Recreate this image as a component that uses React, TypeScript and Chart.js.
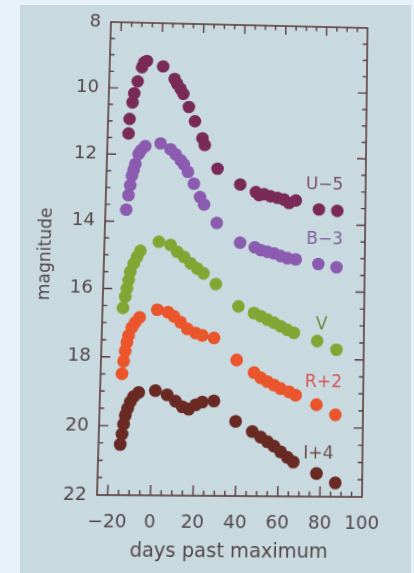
import React, { useEffect, useRef } from "react";
import { Chart, registerables } from "chart.js";

Chart.register(...registerables);

// ---- data (plotted magnitudes, offsets already applied as in the legend labels) ----
const uDays = [-15.0, -14.7, -13.5, -12.8, -11.3, -9.4, -8.4, -7.1, 0.8, 6.5, 7.8, 9.5, 10.9, 13.7, 16.8, 20.6, 21.8, 28.2, 39.3, 46.9, 48.5, 50.9, 54.1, 57.4, 60.6, 63.0, 66.3, 77.5, 86.4];
const uMag = [11.37, 10.93, 10.43, 10.15, 9.79, 9.36, 9.21, 9.16, 9.32, 9.69, 9.84, 9.99, 10.14, 10.53, 10.96, 11.47, 11.67, 12.38, 12.84, 13.06, 13.15, 13.12, 13.18, 13.22, 13.27, 13.37, 13.29, 13.55, 13.58];

const bDays = [-15.1, -14.2, -13.5, -12.8, -12.1, -11.3, -9.9, -8.8, -6.8, 0.5, 5.4, 7.9, 10.4, 12.0, 14.0, 17.0, 20.1, 22.1, 28.4, 39.8, 46.9, 49.8, 53.0, 56.2, 59.4, 62.7, 66.7, 77.6, 86.4];
const bMag = [13.65, 13.22, 12.92, 12.63, 12.46, 12.28, 11.98, 11.87, 11.74, 11.65, 11.82, 11.97, 12.15, 12.27, 12.49, 12.84, 13.24, 13.46, 14.0, 14.58, 14.71, 14.79, 14.84, 14.88, 14.96, 15.02, 15.05, 15.18, 15.27];

const vDays = [-15.3, -14.4, -13.7, -13.0, -12.3, -10.8, -9.3, -7.8, 0.9, 6.5, 9.8, 13.1, 16.4, 19.6, 22.6, 28.6, 39.6, 47.1, 50.4, 53.6, 56.8, 60.0, 63.2, 66.4, 77.6, 86.9];
const vMag = [16.56, 16.23, 15.99, 15.74, 15.49, 15.25, 15.05, 14.87, 14.59, 14.68, 14.88, 15.03, 15.22, 15.37, 15.51, 15.82, 16.47, 16.66, 16.75, 16.85, 16.94, 17.04, 17.14, 17.23, 17.46, 17.71];

const rDays = [-14.9, -14.3, -13.7, -13.0, -12.3, -10.8, -9.3, -7.3, 1.0, 6.1, 9.0, 12.2, 15.5, 19.5, 22.7, 28.3, 39.3, 47.7, 50.9, 54.1, 57.3, 60.5, 64.5, 67.7, 77.7, 86.8];
const rMag = [18.49, 18.12, 17.82, 17.57, 17.37, 17.13, 16.98, 16.83, 16.6, 16.67, 16.79, 16.96, 17.15, 17.27, 17.34, 17.41, 18.05, 18.41, 18.56, 18.67, 18.77, 18.87, 18.96, 19.06, 19.33, 19.62];

const iDays = [-14.8, -14.1, -13.5, -12.8, -11.8, -10.6, -9.1, -6.8, 1.1, 6.7, 10.7, 14.0, 17.1, 20.3, 23.4, 28.9, 39.4, 47.4, 51.4, 54.6, 57.8, 61.0, 64.2, 67.1, 78.2, 87.2];
const iMag = [20.54, 20.24, 19.95, 19.7, 19.5, 19.3, 19.15, 19.03, 18.97, 19.09, 19.27, 19.43, 19.5, 19.37, 19.29, 19.25, 19.84, 20.13, 20.29, 20.42, 20.55, 20.71, 20.87, 21.0, 21.33, 21.6];

const seriesNames = ["U\u22125", "B\u22123", "V", "R+2", "I+4"];
const labelDays = [80.1, 80.5, 79.6, 80.9, 79.0];
const labelMags = [12.8, 14.46, 16.99, 18.69, 20.77];

const xTicks = [-20, 0, 20, 40, 60, 80, 100];
const xTickLabels = ["\u221220", "0", "20", "40", "60", "80", "100"];
const yTicks = [8, 10, 12, 14, 16, 18, 20, 22];
const yTickLabels = ["8", "10", "12", "14", "16", "18", "20", "22"];

// ---- styles ----
const dotColors = ["#792a57", "#8a5bae", "#82a634", "#ea552c", "#692a24"];
const labelColors = ["#7a4f6e", "#7e5f9e", "#6e8a44", "#d2585a", "#6e4a4a"];
const AXIS = "#5b3c3e";
const TEXT = "#52474b";
const FONT = "'DejaVu Sans', sans-serif";
const OUTER = "#e7f1f9";
const SLIDE = "#c8d9e0";

// chart area in the unwarped canvas, and where its corners appear in the photo
const SRC = { x: 104, y: 25, w: 260, h: 470 };
const DST = [
  [111, 22],
  [367.5, 28],
  [362, 497],
  [97, 495],
];

function warpMatrix(): string {
  const [[x0, y0], [x1, y1], [x2, y2], [x3, y3]] = DST;
  const dx1 = x1 - x2, dx2 = x3 - x2, dx3 = x0 - x1 + x2 - x3;
  const dy1 = y1 - y2, dy2 = y3 - y2, dy3 = y0 - y1 + y2 - y3;
  const det = dx1 * dy2 - dx2 * dy1;
  const g = (dx3 * dy2 - dx2 * dy3) / det;
  const h = (dx1 * dy3 - dx3 * dy1) / det;
  const a = x1 - x0 + g * x1, b = x3 - x0 + h * x3, c = x0;
  const d = y1 - y0 + g * y1, e = y3 - y0 + h * y3, f = y0;
  const { x: sx, y: sy, w: sw, h: sh } = SRC;
  const H11 = a / sw, H12 = b / sh, H13 = c - (a * sx) / sw - (b * sy) / sh;
  const H21 = d / sw, H22 = e / sh, H23 = f - (d * sx) / sw - (e * sy) / sh;
  const H31 = g / sw, H32 = h / sh, H33 = 1 - (g * sx) / sw - (h * sy) / sh;
  return `matrix3d(${H11},${H21},0,${H31},${H12},${H22},0,${H32},0,0,1,0,${H13},${H23},0,${H33})`;
}

const framePlugin = {
  id: "frame",
  afterDraw(chart: any) {
    const { ctx, chartArea, scales } = chart;
    const { left, right, top, bottom } = chartArea;
    const xs = scales.x, ys = scales.y;
    ctx.save();
    ctx.strokeStyle = AXIS;
    ctx.lineWidth = 1.6;
    ctx.strokeRect(left, top, right - left, bottom - top);
    ctx.lineWidth = 1.4;
    ctx.beginPath();
    for (let dd = -20; dd < 100; dd += 5) {
      const px = xs.getPixelForValue(dd);
      const major = dd % 20 === 0;
      ctx.moveTo(px, bottom);
      ctx.lineTo(px, bottom - (major ? 10 : 5));
      ctx.moveTo(px, top);
      ctx.lineTo(px, top + (major ? 9 : 4.5));
    }
    for (let m = 8.5; m < 22; m += 0.5) {
      const py = ys.getPixelForValue(m);
      const major = Math.abs(m % 2) < 1e-6;
      ctx.moveTo(left, py);
      ctx.lineTo(left + (major ? 9 : 4.5), py);
      ctx.moveTo(right, py);
      ctx.lineTo(right - (major ? 9 : 4.5), py);
    }
    ctx.stroke();
    ctx.restore();
  },
};

const labelPlugin = {
  id: "seriesLabels",
  afterDatasetsDraw(chart: any) {
    const { ctx, scales } = chart;
    ctx.save();
    ctx.font = `17px ${FONT}`;
    ctx.textAlign = "center";
    ctx.textBaseline = "middle";
    seriesNames.forEach((name, i) => {
      ctx.fillStyle = labelColors[i];
      ctx.fillText(name, scales.x.getPixelForValue(labelDays[i]), scales.y.getPixelForValue(labelMags[i]));
    });
    ctx.restore();
  },
};

export default function App() {
  const ref = useRef<HTMLCanvasElement>(null);

  useEffect(() => {
    const allDays = [uDays, bDays, vDays, rDays, iDays];
    const allMags = [uMag, bMag, vMag, rMag, iMag];
    const chart = new Chart(ref.current as HTMLCanvasElement, {
      type: "scatter",
      data: {
        datasets: allDays.map((days, k) => ({
          label: seriesNames[k],
          data: days.map((dv, j) => ({ x: dv, y: allMags[k][j] })),
          backgroundColor: dotColors[k],
          borderColor: dotColors[k],
          borderWidth: 0,
          pointRadius: 6.3,
          pointHoverRadius: 6.3,
          showLine: false,
        })),
      },
      options: {
        animation: false,
        responsive: false,
        events: [],
        layout: { padding: { top: 25, right: 50, left: 0, bottom: 0 } },
        plugins: { legend: { display: false }, tooltip: { enabled: false } },
        scales: {
          x: {
            type: "linear",
            min: -25,
            max: 100,
            afterBuildTicks: (s: any) => {
              s.ticks = xTicks.map((v) => ({ value: v }));
            },
            afterFit: (s: any) => {
              s.height = 78;
            },
            grid: { display: false, drawTicks: false },
            border: { display: false },
            ticks: {
              autoSkip: false,
              maxRotation: 0,
              padding: 16,
              color: TEXT,
              font: { family: FONT, size: 18 },
              callback: (_v: any, idx: number) => xTickLabels[idx],
            },
            title: {
              display: true,
              text: "days past maximum",
              color: TEXT,
              font: { family: FONT, size: 19 },
              padding: { top: 0, bottom: 13 },
            },
          },
          y: {
            type: "linear",
            reverse: true,
            min: 8,
            max: 22,
            afterBuildTicks: (s: any) => {
              s.ticks = yTicks.map((v) => ({ value: v }));
            },
            afterFit: (s: any) => {
              s.width = 104;
            },
            grid: { display: false, drawTicks: false },
            border: { display: false },
            ticks: {
              autoSkip: false,
              padding: 10,
              color: TEXT,
              font: { family: FONT, size: 18 },
              callback: (_v: any, idx: number) => yTickLabels[idx],
            },
            title: {
              display: true,
              text: "magnitude",
              color: TEXT,
              font: { family: FONT, size: 17 },
              padding: { top: 36, bottom: 0 },
            },
          },
        },
      },
      plugins: [framePlugin, labelPlugin],
    } as any);
    return () => chart.destroy();
  }, []);

  return (
    <div style={{ position: "fixed", left: 0, top: 0, width: 414, height: 573, overflow: "hidden", background: OUTER }}>
      <div style={{ position: "absolute", left: 20, top: 5, right: 3, bottom: 0, background: SLIDE }} />
      <canvas
        ref={ref}
        width={414}
        height={573}
        style={{
          position: "absolute",
          left: 0,
          top: 0,
          width: 414,
          height: 573,
          transformOrigin: "0 0",
          transform: warpMatrix(),
        }}
      />
    </div>
  );
}
